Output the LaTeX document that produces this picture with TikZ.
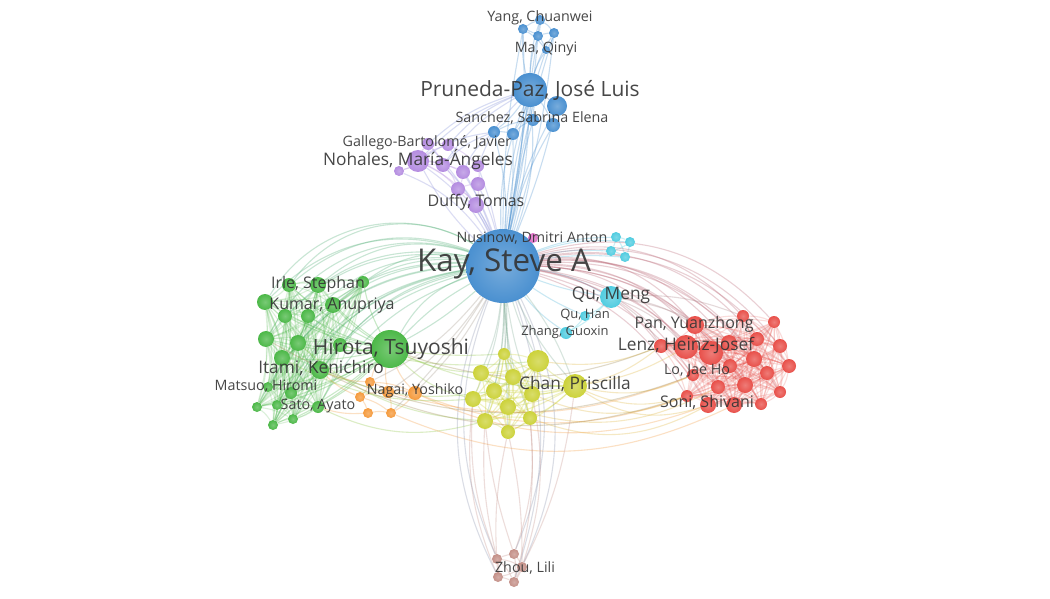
\documentclass[tikz,border=0pt]{standalone}
\usepackage{fontspec}
\setmainfont{Open Sans}
\pgfdeclarelayer{back}
\pgfdeclarelayer{bg}
\pgfsetlayers{back,bg,main}
\definecolor{kblue}{HTML}{4A90D0}
\definecolor{kpurple}{HTML}{B48CE0}
\definecolor{kcyan}{HTML}{50CCE0}
\definecolor{kgreen}{HTML}{4CB848}
\definecolor{korange}{HTML}{F59A3C}
\definecolor{kyellow}{HTML}{CCD23A}
\definecolor{kred}{HTML}{E8504A}
\definecolor{kbrown}{HTML}{C49088}
\definecolor{kpink}{HTML}{E070C8}
\definecolor{ktext}{HTML}{333333}
\tikzset{
  bub/.style={circle, inner sep=0pt, draw=none, inner color=#1!75!white, outer color=#1},
  e/.style={draw=#1, line width=1.1pt, draw opacity=0.3},
  lab/.style={text=ktext, inner sep=0pt, text opacity=0.9},
  fA/.style={font=\fontsize{31.4}{34}\selectfont},
  fB/.style={font=\fontsize{21}{24}\selectfont},
  fC/.style={font=\fontsize{17.3}{20}\selectfont},
  fD/.style={font=\fontsize{16}{18}\selectfont},
  fE/.style={font=\fontsize{14.3}{16}\selectfont},
  fF/.style={font=\fontsize{13}{15}\selectfont},
}
\begin{document}
\begin{tikzpicture}[x=1pt,y=-1pt]
\begin{pgfonlayer}{back}
\fill[white] (0,0) rectangle (1050,599);
\end{pgfonlayer}
\useasboundingbox (0,0) rectangle (1050,599);
% ---------- nodes ----------
\foreach \n/\x/\y/\r in {K/503/266/37, P/530/90/17, b1/557/106/10, b2/494/132/6, b3/513/134/6, b4/533/120/6, b5/553/125/7,
  y1/523/29/5, y2/538/36/5, y3/554/33/5, y4/540/20/5, y5/546/50/4}
  \node[bub=kblue, minimum size={2*\r*1pt}] (\n) at (\x,\y) {};
\foreach \n/\x/\y/\r in {pN/418/161/11, p1/399/171/5, p2/428/144/6, p3/448/145/6, p4/443/165/7, p5/463/172/7, p6/478/166/6, p7/458/189/7, p8/478/184/7, pD/476/205/8}
  \node[bub=kpurple, minimum size={2*\r*1pt}] (\n) at (\x,\y) {};
\node[bub=kpink, minimum size=10pt] (nu) at (533,238) {};
\foreach \n/\x/\y/\r in {cQ/611/297/11, c1/616/237/5, c2/630/242/5, c3/611/251/5, c4/625/257/5, cH/585/316/5, cZ/566/333/6}
  \node[bub=kcyan, minimum size={2*\r*1pt}] (\n) at (\x,\y) {};
\foreach \n/\x/\y/\r in {gH/390/349/19, g1/289/285/7, g2/318/285/8, g3/363/282/6, g4/265/302/8, g5/285/316/7, g6/308/316/7, g7/333/305/8, g8/266/339/8, g9/298/343/8, g10/340/345/7, g11/282/358/8, g12/320/370/9, g13/268/387/5, g14/291/393/6, g15/257/407/5, g16/277/405/5, g17/318/407/6, g18/273/425/5, g19/293/419/5}
  \node[bub=kgreen, minimum size={2*\r*1pt}] (\n) at (\x,\y) {};
\foreach \n/\x/\y/\r in {o1/370/382/5, o2/360/397/5, o3/388/392/6, oN/415/393/7, o4/368/413/5, o5/391/413/5}
  \node[bub=korange, minimum size={2*\r*1pt}] (\n) at (\x,\y) {};
\foreach \n/\x/\y/\r in {yC/575/386/12, w1/504/354/6, w2/538/361/11, w3/481/373/8, w4/513/377/8, w5/494/391/8, w6/532/394/8, w7/473/399/8, w8/508/407/8, w9/485/421/8, w10/530/418/7, w11/508/432/7}
  \node[bub=kyellow, minimum size={2*\r*1pt}] (\n) at (\x,\y) {};
\foreach \n/\x/\y/\r in {r1/695/325/9, r2/743/316/6, r3/774/322/6, r4/661/346/7, r5/686/347/12, r6/711/353/12, r7/729/343/8, r8/757/339/7, r9/780/346/7, r10/754/359/8, r11/730/366/7, r12/789/366/7, r13/767/373/7, r14/745/385/8, r15/718/387/7, r16/693/375/6, r17/780/392/6, r18/687/396/6, r19/708/405/8, r20/734/405/8, r21/761/404/6}
  \node[bub=kred, minimum size={2*\r*1pt}] (\n) at (\x,\y) {};
\foreach \n/\x/\y/\r in {n1/497/559/5, n2/514/554/5, n3/522/567/5, n4/498/577/5, n5/514/582/5}
  \node[bub=kbrown, minimum size={2*\r*1pt}] (\n) at (\x,\y) {};
% ---------- edges ----------
\begin{pgfonlayer}{bg}
% Kay to blue
\foreach \t/\b in {P/6, P/-6, P/0, P/12, P/-12, b1/8, b2/-8, b3/-4, b4/3, b5/8, y1/-6, y2/-3, y3/4, y4/0, y5/6, y1/5, y3/-5, b1/-4}
  \draw[e=kblue] (K) to[bend left=\b] (\t);
\foreach \t in {b1,b2,b3,b4,b5,y1,y2,y3,y4,y5}
  \draw[e=kblue] (P) to[bend left=8] (\t);
\foreach \a/\b in {y1/y2,y2/y3,y1/y4,y4/y3,y2/y5,y3/y5,y1/y5,y4/y2,b2/b3,b3/b4,b4/b5,b5/b1,b2/b4}
  \draw[e=kblue] (\a) to[bend left=10] (\b);
% Kay to purple
\foreach \t/\b in {pN/12, p1/15, p2/8, p3/6, p4/10, p5/6, p6/4, p7/8, p8/5, pD/4, pN/-8}
  \draw[e=kpurple!60!kblue] (K) to[bend right=\b] (\t);
\foreach \a/\b in {pN/p1,pN/p2,pN/p3,pN/p4,pN/p5,pN/p7,p2/p3,p3/p6,p4/p5,p5/p6,p5/p7,p7/p8,p8/pD,p7/pD,p6/p8,p4/p7,p2/p4,p1/p4,pN/pD}
  \draw[e=kpurple] (\a) to[bend left=10] (\b);
\foreach \t in {pN,p2,p3,p4,p6}
  \draw[e=kpurple!50!kblue] (\t) to[bend left=12] (P);
\foreach \t in {pN,p4,p5}
  \draw[e=kpurple!50!kblue] (\t) to[bend left=12] (b2);
% Kay to cyan
\foreach \t/\b in {cQ/10, cQ/-6, c1/10, c2/12, c3/8, c4/6, cH/-5, cZ/-8, nu/5}
  \draw[e=kcyan!60!kblue] (K) to[bend left=\b] (\t);
\foreach \a/\b in {c1/c2,c1/c3,c2/c4,c3/c4,c1/c4,c2/c3,cQ/cH,cQ/cZ,cH/cZ}
  \draw[e=kcyan] (\a) to[bend left=10] (\b);
% Kay to green
\foreach \t/\b in {gH/8, gH/-6, gH/20, g1/30, g2/28, g3/22, g4/32, g5/28, g6/25, g7/22, g8/30, g9/25, g10/18, g11/28, g12/20, g13/28, g14/25, g15/30, g16/26, g17/20, g18/28, g19/24, g4/45, g1/42, g8/40}
  \draw[e=kgreen!70!kblue] (K) to[bend right=\b] (\t);
% green intra
\foreach \i in {1,...,19}{
  \foreach \j in {\i,...,19}{
    \ifnum\i<\j \draw[e=kgreen, draw opacity=0.2] (g\i) to[bend left=10] (g\j); \fi
  }
  \draw[e=kgreen, draw opacity=0.3] (gH) to[bend left=8] (g\i);
}
% orange
\foreach \a/\b in {o1/o2,o1/o3,o2/o3,o3/oN,o1/oN,o2/o4,o4/o5,o3/o5,oN/o5,o2/o5,o1/gH,o3/gH,oN/gH,o2/g12,o4/g17,o1/g12}
  \draw[e=korange] (\a) to[bend left=10] (\b);
\foreach \t/\b in {oN/8, o3/10, o1/12, o5/6}
  \draw[e=korange!50!kblue] (K) to[bend left=\b] (\t);
% Kay to yellow
\foreach \t/\b in {yC/8, yC/-8, w1/5, w2/-5, w3/8, w4/-3, w5/6, w6/-6, w7/10, w8/2, w9/8, w10/-8, w11/0}
  \draw[e=kyellow!40!kblue] (K) to[bend left=\b] (\t);
\foreach \i in {1,...,11}{
  \foreach \j in {\i,...,11}{
    \ifnum\i<\j \draw[e=kyellow, draw opacity=0.3] (w\i) to[bend left=8] (w\j); \fi
  }
  \draw[e=kyellow, draw opacity=0.3] (yC) to[bend left=8] (w\i);
}
% Kay to red
\foreach \i/\b in {1/28,2/30,3/32,4/20,5/24,6/26,7/28,8/30,9/32,10/28,11/26,12/32,13/30,14/26,15/24,16/22,17/30,18/20,19/22,20/24,21/28}
  \draw[e=kred!70!kblue] (K) to[bend left=\b] (r\i);
\foreach \i in {1,...,21}{
  \foreach \j in {\i,...,21}{
    \ifnum\i<\j \draw[e=kred, draw opacity=0.2] (r\i) to[bend left=10] (r\j); \fi
  }
}
% cyan to red
\foreach \t in {r1,r4,r5,r7,r2}
  \draw[e=kred!60!kcyan] (cQ) to[bend left=12] (\t);
% yellow / orange / green to red
\foreach \a/\b/\c in {yC/r4/12, yC/r16/18, yC/r18/20, w2/r4/14, w6/r18/22, w10/r19/24, w8/r15/22, yC/r5/10, yC/r19/25}
  \draw[e=kyellow!50!korange] (\a) to[bend right=\c] (\b);
\foreach \a/\b/\c in {oN/r18/20, oN/r19/22, o5/r20/24, o3/r16/18}
  \draw[e=korange] (\a) to[bend right=\c] (\b);
\foreach \a/\b/\c in {gH/w3/10, gH/w7/15, g12/w5/15, g9/w9/18, g11/w7/16, gH/yC/12, g10/w2/10, g17/w9/20, gH/w1/5}
  \draw[e=kgreen!50!kyellow] (\a) to[bend right=\c] (\b);
\foreach \a/\b/\c in {g8/r16/25, g12/r18/22, gH/r4/20}
  \draw[e=kgreen!50!kred] (\a) to[bend right=\c] (\b);
% brown
\foreach \a/\b in {n1/n2,n1/n3,n1/n4,n2/n3,n3/n5,n4/n5,n2/n5,n1/n5,n3/n4}
  \draw[e=kbrown] (\a) to[bend left=10] (\b);
\foreach \a/\b/\c in {n1/w7/12, n1/w9/8, n4/w7/14, n2/w10/-12, n3/w6/-14, n5/w10/-10, n2/w9/6, n4/w11/8, n5/yC/-10, n3/w11/-6}
  \draw[e=kbrown] (\a) to[bend left=\c] (\b);
\foreach \t/\b in {n1/-22, n2/22, n3/25, n4/-25, n5/18}
  \draw[e=kbrown!50!kblue] (K) to[bend left=\b] (\t);
\end{pgfonlayer}
% ---------- labels ----------
\node[lab,fA] (tK) at (504,264) {Kay, Steve A};
\node[lab,fB] (tP) at (530,90) {Pruneda-Paz, José Luis};
\node[lab,fB] (tH) at (391,349) {Hirota, Tsuyoshi};
\node[lab,fC] (tN) at (418,160) {Nohales, María-Ángeles};
\node[lab,fC] (tQ) at (611,295) {Qu, Meng};
\node[lab,fC] (tC) at (575,384) {Chan, Priscilla};
\node[lab,fC] (tL) at (686,346) {Lenz, Heinz-Josef};
\node[lab,fC] (tI) at (321,368) {Itami, Kenichiro};
\node[lab,fD] (tD) at (476,202) {Duffy, Tomas};
\node[lab,fD] (tPa) at (694,324) {Pan, Yuanzhong};
\node[lab,fD] (tIr) at (318,284) {Irle, Stephan};
\node[lab,fD] (tKu) at (332,306) {Kumar, Anupriya};
\node[lab,fD] (tSo) at (707,402) {Soni, Shivani};
\node[lab,fE] (tNu) at (532,238) {Nusinow, Dmitri Anton};
\node[lab,fE] (tG) at (427,143) {Gallego-Bartolomé, Javier};
\node[lab,fE] (tS) at (532,118) {Sanchez, Sabrina Elena};
\node[lab,fE] (tY) at (540,18) {Yang, Chuanwei};
\node[lab,fE] (tM) at (546,49) {Ma, Qinyi};
\node[lab,fE] (tNa) at (415,391) {Nagai, Yoshiko};
\node[lab,fE] (tMa) at (266,386) {Matsuo, Hiromi};
\node[lab,fE] (tSa) at (318,406) {Sato, Ayato};
\node[lab,fE] (tLo) at (697,371) {Lo, Jae Ho};
\node[lab,fE] (tZ) at (525,568) {Zhou, Lili};
\node[lab,fF] (tQH) at (585,315) {Qu, Han};
\node[lab,fF] (tZG) at (565,332) {Zhang, Guoxin};
\end{tikzpicture}
\end{document}
